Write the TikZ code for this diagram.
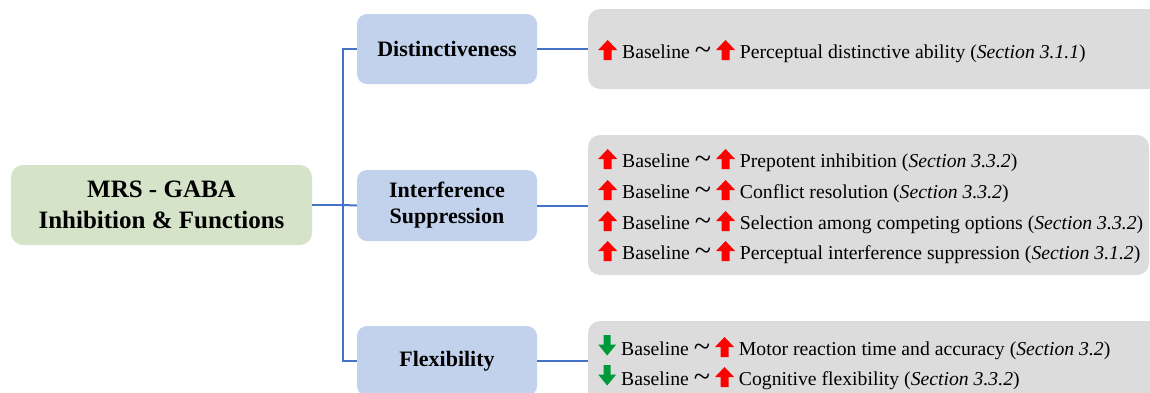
\documentclass[tikz,border=0pt]{standalone}
\usepackage{fontspec}
\setmainfont{Liberation Serif}
\definecolor{rootfill}{HTML}{D5E3C8}
\definecolor{bluefill}{HTML}{C3D2EC}
\definecolor{greyfill}{HTML}{DCDCDC}
\definecolor{conncol}{HTML}{4472C4}
\definecolor{arrred}{HTML}{FF0000}
\definecolor{arrgreen}{HTML}{00993A}
\newcommand{\upa}{\tikz[x=1pt,y=1pt,baseline=2pt]\fill[arrred] (0,10)--(9.5,20)--(19,10)--(13.5,10)--(13.5,0)--(5.5,0)--(5.5,10)--cycle;}
\newcommand{\dna}{\tikz[x=1pt,y=1pt,baseline=-1pt]\fill[arrgreen] (0,9.5)--(9,-1.5)--(18,9.5)--(12.5,9.5)--(12.5,19)--(5.5,19)--(5.5,9.5)--cycle;}
\newcommand{\tld}{{\fontsize{30}{30}\selectfont\raisebox{-1pt}{\textasciitilde}}}
\tikzset{
  rootbox/.style={draw=none, fill=rootfill, rounded corners=12pt, minimum width=301pt, minimum height=80pt, align=center, font=\fontsize{25}{31}\selectfont\bfseries},
  catbox/.style={draw=none, fill=bluefill, rounded corners=10pt, minimum width=180pt, minimum height=70pt, align=center, font=\fontsize{22}{26}\selectfont\bfseries},
  greybox/.style={draw=none, fill=greyfill, rounded corners=12pt, inner sep=0pt},
  conn/.style={draw=conncol, line width=2pt},
  itemtext/.style={anchor=base west, inner sep=0pt, font=\fontsize{19.7}{23}\selectfont}
}
\begin{document}
\begin{tikzpicture}[x=1pt,y=-1pt]
\useasboundingbox (0,0) rectangle (1150,392);
\clip (0,0) rectangle (1150,392);
% root
\node[rootbox] (root) at (161.5,205) {MRS - GABA\\Inhibition \& Functions};
% categories
\node[catbox] (dist) at (447,49) {Distinctiveness};
\node[catbox, minimum height=71pt] (intf) at (447,205.5) {Interference\\Suppression};
\node[catbox] (flex) at (447,361) {Flexibility};
% grey boxes
\node[greybox, minimum width=600pt, minimum height=80pt] (g1) at (888,49) {};
\node[greybox, minimum width=561pt, minimum height=140pt] (g2) at (868.5,205) {};
\node[greybox, minimum width=600pt, minimum height=100pt] (g3) at (888,371) {};
% connectors
\coordinate (j) at (343,205);
\draw[conn] (root.east) -- (j);
\draw[conn] (dist.west) -| (j) |- (flex.west);
\draw[conn] (j) -- (intf.west);
\draw[conn] (dist.east) -- (dist.east -| g1.west);
\draw[conn] (intf.east) -- (intf.east -| g2.west);
\draw[conn] (flex.east) -- (flex.east -| g3.west);
% texts
\node[itemtext] (t1) at (598,58) {\upa{} Baseline \tld{} \upa{} Perceptual distinctive ability (\textit{Section 3.1.1})};
\node[itemtext] (t2) at (598,167) {\upa{} Baseline \tld{} \upa{} Prepotent inhibition (\textit{Section 3.3.2})};
\node[itemtext] (t3) at (598,198) {\upa{} Baseline \tld{} \upa{} Conflict resolution (\textit{Section 3.3.2})};
\node[itemtext] (t4) at (598,229) {\upa{} Baseline \tld{} \upa{} Selection among competing options (\textit{Section 3.3.2})};
\node[itemtext] (t5) at (598,259) {\upa{} Baseline \tld{} \upa{} Perceptual interference suppression (\textit{Section 3.1.2})};
\node[itemtext] (t6) at (598,355) {\dna{} Baseline \tld{} \upa{} Motor reaction time and accuracy (\textit{Section 3.2})};
\node[itemtext] (t7) at (598,385) {\dna{} Baseline \tld{} \upa{} Cognitive flexibility (\textit{Section 3.3.2})};
\end{tikzpicture}
\end{document}
